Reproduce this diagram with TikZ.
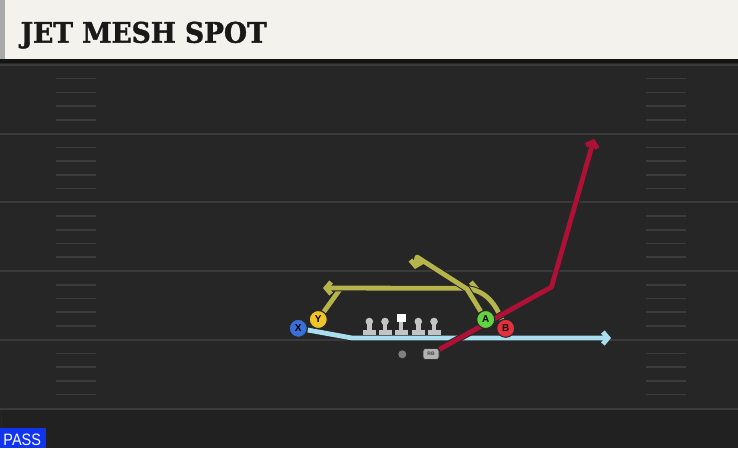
\documentclass[tikz,border=0pt]{standalone}
\usepackage{fontspec}
\usetikzlibrary{arrows.meta}
\newfontfamily\titlefont{DejaVu Serif}[BoldFeatures={FakeBold=1.6}]
\newfontfamily\labelfont{Liberation Sans}
\definecolor{field}{HTML}{262626}
\definecolor{fieldlow}{HTML}{212121}
\definecolor{yardc}{HTML}{3A3A3A}
\definecolor{hashc}{HTML}{3C3C3C}
\definecolor{headerc}{HTML}{F4F2EC}
\definecolor{headerstrip}{HTML}{A9A9A9}
\definecolor{rblue}{HTML}{A8DEEE}
\definecolor{rred}{HTML}{AE1036}
\definecolor{rolive}{HTML}{B6B54C}
\definecolor{cX}{HTML}{3A6FD6}
\definecolor{cY}{HTML}{F2C526}
\definecolor{cA}{HTML}{62D23E}
\definecolor{cB}{HTML}{E2303E}
\definecolor{passblue}{HTML}{1034F0}
\definecolor{linemanc}{HTML}{C4C4C4}
\pgfdeclarelayer{bg}
\pgfdeclarelayer{rts}
\pgfsetlayers{bg,rts,main}
\newcommand{\droute}[3]{\draw[rtout,#2] #3; \draw[rt,draw=#1,#2] #3;}
\tikzset{
  yard/.style={draw=yardc, line width=2pt},
  hashmark/.style={draw=hashc, line width=1.5pt},
  rt/.style={line width=4.8pt, line join=round},
  rtout/.style={line width=6.8pt, line join=round, draw=black!85},
  tipbarb/.style={-{Straight Barb[length=5pt,width=12pt]}},
  player/.style={circle, draw=black!85, line width=1pt, minimum size=18pt, inner sep=0pt,
    font=\labelfont\bfseries\fontsize{10}{10}\selectfont, text=black},
}
\begin{document}
\begin{tikzpicture}[x=1pt,y=-1pt]
\useasboundingbox (0,0) rectangle (738,448);
\begin{pgfonlayer}{bg}
\fill[field] (0,0) rectangle (738,448);
\fill[fieldlow] (0,408.5) rectangle (738,448);
\draw[draw=black!70!gray, line width=1pt] (1,62) -- (1,448);
\foreach \y in {65,133.7,202.4,271.1,339.8,408.5} \draw[yard] (0,\y) -- (738,\y);
\foreach \y in {65,133.7,202.4,271.1,339.8} {
  \foreach \k in {1,...,4} {
    \draw[hashmark] (56,{\y+13.7*\k}) -- (96,{\y+13.7*\k});
    \draw[hashmark] (646,{\y+13.7*\k}) -- (686,{\y+13.7*\k});
  }
}
% header
\fill[black!92] (0,57) rectangle (738,62.5);
\fill[headerc] (0,0) rectangle (738,59);
\fill[headerstrip] (0,0) rectangle (5,59);
\end{pgfonlayer}
\node[anchor=base west, inner sep=0pt, text=black!90] (title) at (20.5,42.7)
  {\resizebox{246pt}{21pt}{\titlefont\bfseries JET MESH SPOT}};
% PASS tag
\fill[passblue] (0,428) rectangle (46,448);
\node[anchor=base west, inner sep=0pt, text=white] (pass) at (3.3,445)
  {\resizebox{37.5pt}{11.5pt}{\labelfont PASS}};
% players
\node[player, fill=cX] (X) at (298.3,328.3) {X};
\node[player, fill=cY] (Y) at (318.3,319.5) {Y};
\node[player, fill=cA] (A) at (485.7,319.5) {A};
\node[player, fill=cB] (B) at (505.7,328.3) {B};
\node[circle, fill=black!50, minimum size=8pt, inner sep=0pt] (ball) at (402.3,354.3) {};
\node[rounded corners=2.5pt, fill=black!30, draw=black!80, line width=0.8pt, minimum width=16pt,
  minimum height=11pt, inner sep=0pt, font=\labelfont\bfseries\fontsize{5}{5}\selectfont, text=black!75] (RB) at (431,354) {RB};
% linemen
\foreach \cx in {369.3,385,418.3,434} {
  \fill[linemanc] (\cx,321.5) circle (3.8);
  \fill[linemanc] (\cx-2.2,321.5) rectangle (\cx+2.2,331);
  \fill[linemanc] (\cx-6.5,329.5) rectangle (\cx+6.5,334.8);
}
\fill[white] (396.8,314.3) rectangle (405.6,322);
\fill[linemanc] (399,322) rectangle (403.4,331);
\fill[linemanc] (394.7,329.5) rectangle (407.7,334.8);
% routes
\begin{pgfonlayer}{rts}
\droute{rblue}{tipbarb}{(X) -- (352,338) -- (611,338)}
\droute{rolive}{tipbarb}{(Y) -- (340.5,288.5) -- (479,288)}
\droute{rolive}{tipbarb}{(B) .. controls (495,304) and (487,291) .. (466,288.3) -- (323,288)}
\droute{rolive}{tipbarb}{(A) -- (467,289) -- (417,257) -- (415,269)}
\droute{rred}{tipbarb}{(RB) -- (551.5,287) -- (594,139)}
\end{pgfonlayer}
\end{tikzpicture}
\end{document}
